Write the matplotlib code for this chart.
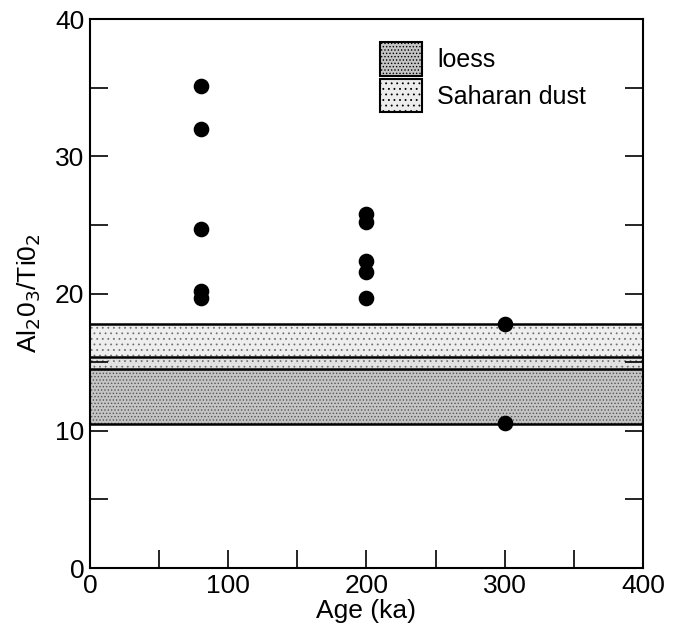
import numpy as np
import matplotlib
matplotlib.use('Agg')
import matplotlib.pyplot as plt
from matplotlib.patches import Patch

plt.rcParams['font.family'] = ['Liberation Sans', 'DejaVu Sans']
plt.rcParams['hatch.linewidth'] = 0.6

# sample ages (ka) and Al2O3/TiO2 ratios
age = [80, 80, 80, 80, 80, 200, 200, 200, 200, 200, 300, 300]
ratio = [35.1, 32.0, 24.7, 20.2, 19.7, 25.8, 25.2, 22.4, 21.6, 19.7, 17.8, 10.6]

# reference ranges
loess_range = [10.5, 15.4]
dust_range = [14.5, 17.8]

fig = plt.figure(figsize=(6.79, 6.37), dpi=100)
ax = fig.add_axes([0.1325, 0.1083, 0.8145, 0.8617])

# bands
ax.axhspan(loess_range[0], loess_range[1], facecolor='#c4c4c4', edgecolor='#555555',
           hatch='.....', linewidth=0, zorder=1)
ax.axhspan(dust_range[0], dust_range[1], facecolor='#ececec', edgecolor='#666666',
           hatch='...', linewidth=0, alpha=0.85, zorder=1)
for v in loess_range + dust_range:
    ax.axhline(v, color='black', linewidth=1.8, zorder=2)

ax.scatter(age, ratio, s=105, color='black', zorder=3)

ax.set_xlim(0, 400)
ax.set_ylim(0, 40)
ax.set_xticks([0, 100, 200, 300, 400])
ax.set_xticks([50, 150, 250, 350], minor=True)
ax.set_yticks([0, 10, 20, 30, 40])
ax.set_yticks([5, 15, 25, 35], minor=True)
ax.tick_params(which='both', direction='in', right=True, labelsize=19)
ax.tick_params(which='major', length=13, width=1.2, pad=4)
ax.tick_params(which='minor', length=13, width=1.2)
for s in ax.spines.values():
    s.set_linewidth(1.5)

ax.set_xlabel('Age (ka)', fontsize=19, labelpad=1)
ax.set_ylabel('Al$_2$0$_3$/Ti0$_2$', fontsize=19, labelpad=9)

handles = [Patch(facecolor='#c4c4c4', edgecolor='black', hatch='.....', linewidth=1.5, label='loess'),
           Patch(facecolor='#ececec', edgecolor='black', hatch='...', linewidth=1.5, label='Saharan dust')]
ax.legend(handles=handles, loc='upper left', bbox_to_anchor=(0.497, 0.985), frameon=False,
          fontsize=18, handlelength=1.7, handleheight=1.7, handletextpad=0.6, labelspacing=0.1,
          borderaxespad=0.2)

fig.savefig('out.png', dpi=100)
